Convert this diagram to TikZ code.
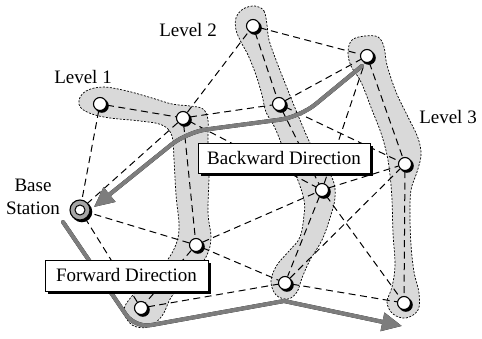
\documentclass[tikz,border=0pt]{standalone}
\usepackage{fontspec}
\setmainfont{Liberation Serif}
\usetikzlibrary{arrows.meta}
\pgfdeclarelayer{regions}
\pgfdeclarelayer{links}
\pgfdeclarelayer{shades}
\pgfsetlayers{regions,links,shades,main}
\definecolor{regiongray}{RGB}{217,217,217}
\definecolor{flowgray}{RGB}{125,125,125}

\begin{document}
\begin{tikzpicture}[x=1pt,y=-1pt,
  lbl/.style={font=\fontsize{19}{23}\selectfont, inner sep=0pt, align=center},
  sensor/.style={circle, draw, line width=1.1pt, fill=white, minimum size=13pt, inner sep=0pt},
  basestation/.style={circle, draw, line width=1.1pt, fill=gray!70, minimum size=20pt, inner sep=0pt,
    path picture={\draw[line width=1pt, fill=white] (path picture bounding box.center) circle[radius=5pt];}},
  levelregion/.style={fill=regiongray, draw=black, line width=0.7pt, dash pattern=on 2pt off 1.5pt},
  link/.style={draw, line width=1pt, dash pattern=on 7pt off 4.5pt},
  flowshade/.style={draw=black, line width=4pt, line cap=round,
    -{Triangle[length=20pt,width=18pt]}},
  flow/.style={draw=flowgray, line width=4pt, line cap=round,
    -{Triangle[length=20pt,width=18pt]}},
  dirbox/.style={draw, line width=0.8pt, fill=white, inner sep=0pt,
    font=\fontsize{19}{23}\selectfont}
]
\useasboundingbox (0,0) rectangle (482,339);

% sensor nodes
\node[basestation] (bs) at (80,210) {};
\node[sensor] (l1a) at (100,104) {};
\node[sensor] (l1b) at (183,118) {};
\node[sensor] (l1c) at (196,245) {};
\node[sensor] (l1d) at (141,308) {};
\node[sensor] (l2a) at (253,26) {};
\node[sensor] (l2b) at (279,104) {};
\node[sensor] (l2c) at (322,190) {};
\node[sensor] (l2d) at (285,283) {};
\node[sensor] (l3a) at (367,56) {};
\node[sensor] (l3b) at (405,164) {};
\node[sensor] (l3c) at (404,303) {};

% labels
\node[lbl] (lev1) at (83,77) {Level 1};
\node[lbl] (lev2) at (188,30) {Level 2};
\node[lbl] (lev3) at (448,117) {Level 3};
\node[lbl] (bslabel) at (33,197) {Base\\Station};

% direction boxes
\node[dirbox, minimum width=172pt, minimum height=30pt] (bwd) at (284,158) {Backward Direction};
\node[dirbox, minimum width=163pt, minimum height=31pt] (fwd) at (126.5,275.5) {Forward Direction};

% black shadows under nodes and boxes
\begin{pgfonlayer}{shades}
\foreach \n in {l1a,l1b,l1c,l1d,l2a,l2b,l2c,l2d,l3a,l3b,l3c}
  \fill[black] ([shift={(1.8pt,-1.8pt)}]\n.center) circle[radius=7pt];
\fill[black] ([shift={(1.8pt,-1.8pt)}]bs.center) circle[radius=10.5pt];
\foreach \n in {bwd,fwd}
  \fill[black] ([shift={(3pt,-3pt)}]\n.south west) rectangle ([shift={(3pt,-3pt)}]\n.north east);
\end{pgfonlayer}

% shaded level regions
\begin{pgfonlayer}{regions}
\draw[levelregion] plot[smooth cycle, tension=0.6] coordinates {
  (79,100) (86,91) (103,87) (127,91) (152,98) (172,104) (190,106) (203,109)
  (208,120) (208,140) (209,175) (208,213) (211,238) (206,257) (190,278)
  (172,296) (162,316) (148,327) (132,325) (124,311) (132,296) (155,274)
  (172,253) (179,230) (176,195) (174,160) (172,136) (162,125) (140,121)
  (110,118) (92,114) (81,108)};
\draw[levelregion] plot[smooth cycle, tension=0.6] coordinates {
  (255,6) (264,11) (267,25) (269,40) (276,60) (285,83) (293,103) (300,120)
  (310,143) (322,163) (333,180) (335,198) (330,218) (322,240) (310,260)
  (302,278) (297,292) (288,299) (276,295) (271,281) (277,265) (290,250)
  (300,237) (304,215) (304,200) (297,178) (286,155) (275,128) (266,112)
  (262,95) (256,75) (248,55) (241,42) (236,30) (236,18) (243,9)};
\draw[levelregion] plot[smooth cycle, tension=0.6] coordinates {
  (365,36) (378,37) (384,47) (387,65) (396,92) (408,117) (418,138) (421,155)
  (417,172) (411,190) (410,215) (411,245) (414,272) (419,293) (418,310)
  (406,318) (393,314) (387,302) (392,287) (395,265) (393,233) (392,200)
  (390,175) (387,155) (381,133) (372,110) (361,82) (351,66) (348,52) (352,40)};
\end{pgfonlayer}

% radio links and data flow
\begin{pgfonlayer}{links}
\foreach \a/\b in {l1a/l1b, l1a/bs, l1b/bs, l1b/l2a, l1b/l2b, l1b/l2c, l1b/l1c,
                   l1c/l1d, l1c/bs, l1c/l2c, l1c/l2d, l1d/bs, l1d/l2d,
                   l2a/l2b, l2a/l3a, l2b/l2c, l2b/l3a, l2b/l3b, l2c/l2d,
                   l2c/l3a, l2c/l3b, l2c/l3c, l2d/l3b, l2d/l3c, l3a/l3b, l3b/l3c}
  \draw[link] (\a) -- (\b);

\coordinate (b0) at (362,66);
\coordinate (b1) at (300,117);
\coordinate (b2) at (187,132);
\coordinate (b3) at (94,207);
\coordinate (f0) at (63,222);
\coordinate (f1) at (135,328);
\coordinate (f2) at (284,301);
\coordinate (f3) at (402,326);

\begin{scope}[shift={(1.5,1.5)}]
\draw[flowshade, rounded corners=20pt] (b0) -- (b1) -- (b2) -- (b3);
\draw[flowshade, rounded corners=16pt] (f0) -- (f1) [sharp corners] -- (f2) -- (f3);
\end{scope}
\draw[flow, rounded corners=20pt] (b0) -- (b1) -- (b2) -- (b3);
\draw[flow, rounded corners=16pt] (f0) -- (f1) [sharp corners] -- (f2) -- (f3);
\end{pgfonlayer}
\end{tikzpicture}
\end{document}
